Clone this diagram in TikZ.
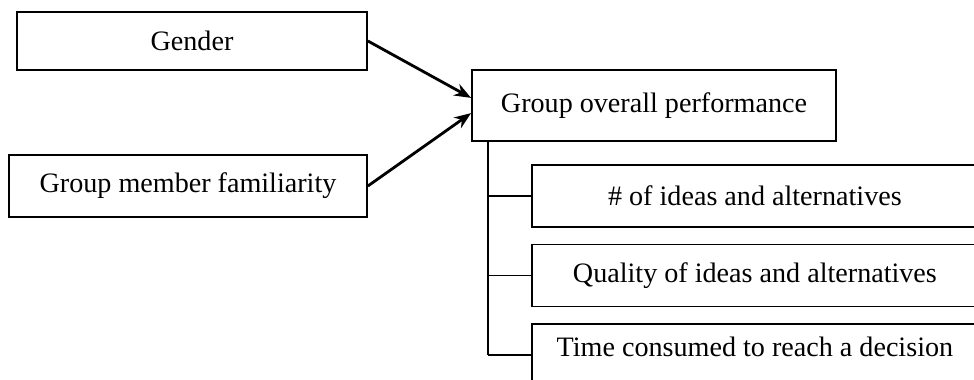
\documentclass[tikz,border=0pt]{standalone}
\usepackage{fontspec}
\setmainfont{Liberation Serif}
\usetikzlibrary{arrows.meta,positioning}

\begin{document}
\begin{tikzpicture}[->,>={Stealth[length=0.42cm,width=0.32cm]}, x=0.025cm, y=-0.025cm, node distance=0.4cm,
    line width=1.2pt,
    every node/.style={font=\fontsize{20}{24}\selectfont},
    box/.style={draw, rectangle, inner sep=0pt},
    measure/.style={box, minimum width=11.15cm, minimum height=1.55cm},
    cause/.style={line width=2pt},
    link/.style={-}
    ]
\useasboundingbox (0,0) rectangle (974,380);
\clip (0,0) rectangle (974,380);
% factors
\node[box, minimum width=8.75cm, minimum height=1.45cm] (gender) at (192,41) {Gender};
\node[box, minimum width=8.95cm, minimum height=1.55cm] (famil) at (188,186) {Group member familiarity};
\node[box, minimum width=9.1cm, minimum height=1.775cm] (perf) at (654,105.5) {Group overall performance};
% measures
\node[measure, anchor=north west] (ideas) at (531,164) {\# of ideas and alternatives};
\node[measure] (quality) [below=of ideas] {Quality of ideas and alternatives};
\node[measure, text depth=0.44cm] (time) [below=of quality] {Time consumed to reach a decision};
\path
(gender.east) edge [cause] ([yshift=0.19cm]perf.west)
(famil.east)  edge [cause] ([yshift=-0.19cm]perf.west)
;
\coordinate (trunk) at ([xshift=0.425cm]perf.south west);
\draw[link] (trunk) -- (trunk |- time.west);
\foreach \m in {ideas,quality,time}
    \draw[link] (trunk |- \m.west) -- (\m.west);
\end{tikzpicture}
\end{document}
